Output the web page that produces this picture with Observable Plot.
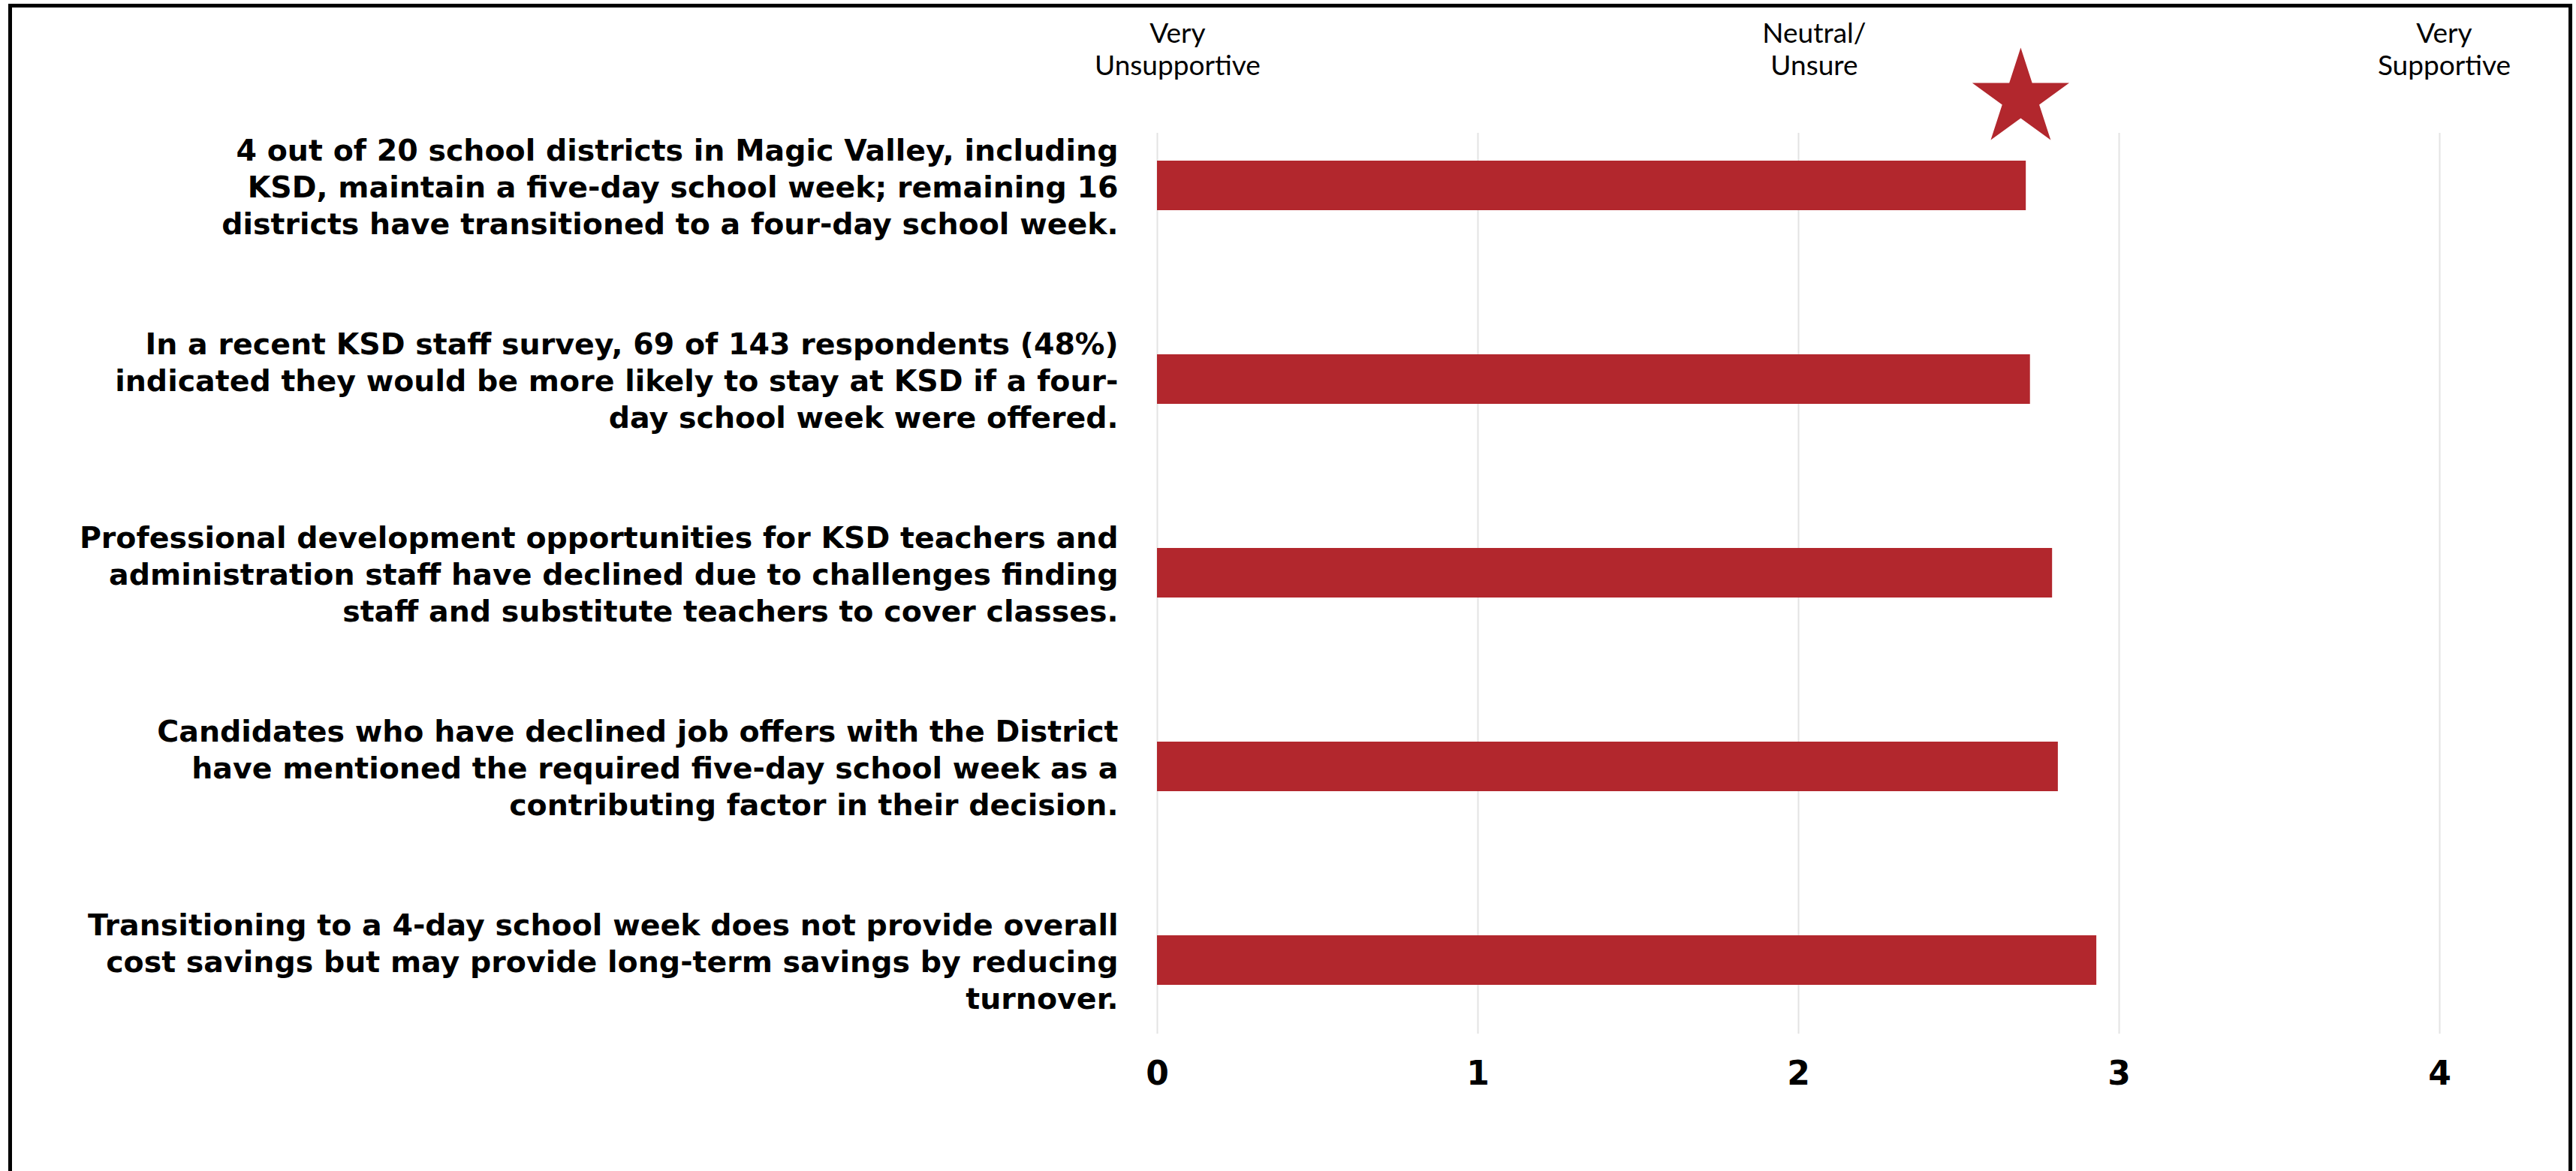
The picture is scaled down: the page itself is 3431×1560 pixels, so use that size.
<!DOCTYPE html>
<html>
<head>
<meta charset="utf-8">
<script src="https://cdn.jsdelivr.net/npm/d3@7"></script>
<script src="https://cdn.jsdelivr.net/npm/@observablehq/plot@0.6"></script>
<style>
  html, body { margin: 0; padding: 0; background: #fff; width: 3431px; height: 1560px; overflow: hidden; }
  #border { position: absolute; left: 11px; top: 5px; width: 3405px; height: 1700px; border: 5px solid #000; box-sizing: content-box; }
  #chart { position: absolute; left: 0; top: 0; }
</style>
</head>
<body>
<div id="border"></div>
<div id="chart"></div>
<script>
const categories = [
  "4 out of 20 school districts in Magic Valley, including\nKSD, maintain a five-day school week; remaining 16\ndistricts have transitioned to a four-day school week.",
  "In a recent KSD staff survey, 69 of 143 respondents (48%)\nindicated they would be more likely to stay at KSD if a four-\nday school week were offered.",
  "Professional development opportunities for KSD teachers and\nadministration staff have declined due to challenges finding\nstaff and substitute teachers to cover classes.",
  "Candidates who have declined job offers with the District\nhave mentioned the required five-day school week as a\ncontributing factor in their decision.",
  "Transitioning to a 4-day school week does not provide overall\ncost savings but may provide long-term savings by reducing\nturnover."
];
const values = [2.710, 2.723, 2.792, 2.810, 2.930];
const xTicks = [0, 1, 2, 3, 4];
const headerLabels = ["Very\nUnsupportive", "Neutral/\nUnsure", "Very\nSupportive"];
const headerX = [0.063, 2.049, 4.014];
const starValue = [2.693];

const rows = categories.map((c, i) => ({category: c, value: values[i]}));
const headers = headerLabels.map((t, i) => ({label: t, x: headerX[i]}));

const barColor = "#b2272d";
const boldFont = "'DejaVu Sans', sans-serif";

const chart = Plot.plot({
  width: 3431,
  height: 1560,
  marginLeft: 1541,
  marginRight: 182,
  marginTop: 177,
  marginBottom: 183,
  style: {background: "transparent", color: "#000", fontFamily: "Lato, 'Noto Sans', sans-serif"},
  x: {domain: [0, 4]},
  y: {domain: categories, insetTop: 11, insetBottom: 38, paddingInner: 0.744, paddingOuter: 0.1},
  marks: [
    Plot.gridX(xTicks, {stroke: "#e3e3e3", strokeOpacity: 1, strokeWidth: 2}),
    Plot.barX(rows, {x: "value", y: "category", fill: barColor}),
    Plot.axisX({ticks: xTicks, tickFormat: d => String(d), tickSize: 0, tickPadding: 36, fontSize: 44, fontWeight: 700, fontFamily: boldFont, label: null}),
    Plot.axisY({tickSize: 0, tickPadding: 52, fontSize: 39.5, fontWeight: 700, fontFamily: boldFont, lineHeight: 1.24, label: null}),
    Plot.text(headers, {x: "x", text: "label", frameAnchor: "top", dy: -150, lineAnchor: "top", textAnchor: "middle", fontSize: 37, fontWeight: 400, lineHeight: 1.14, fill: "#000"}),
    Plot.dot(starValue, {x: d => d, frameAnchor: "top", dy: -46, symbol: "star", r: 40.6, fill: barColor, stroke: "none"})
  ]
});
document.getElementById("chart").appendChild(chart);
</script>
</body>
</html>
